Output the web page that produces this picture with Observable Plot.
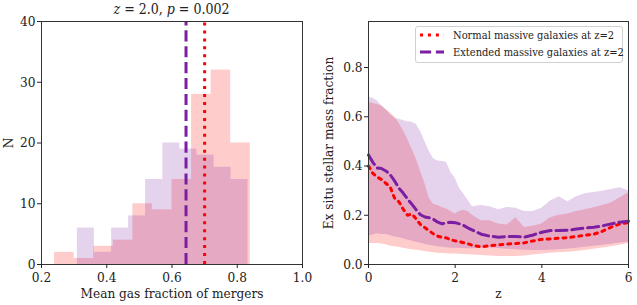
<!DOCTYPE html>
<html>
<head>
<meta charset="utf-8">
<script src="https://cdn.jsdelivr.net/npm/d3@7"></script>
<script src="https://cdn.jsdelivr.net/npm/@observablehq/plot@0.6"></script>
<style>
  html, body { margin: 0; padding: 0; background: #fff; }
  #wrap { position: relative; width: 637px; height: 305px; font-family: "DejaVu Serif Condensed", "DejaVu Serif", serif; font-stretch: condensed; color: #222; }
  #left, #right { position: absolute; top: 0; }
  #left { left: 0; }
  #right { left: 320px; }
  #title { position: absolute; left: 0; width: 343px; top: 1px; text-align: center; font-size: 14px; line-height: 17px; }
  #legend { position: absolute; left: 415px; top: 26px; width: 206px; height: 35px; border: 1px solid #d0d0d0; border-radius: 3px; background: rgba(255,255,255,0.8); font-size: 11px; }
  .row { position: absolute; left: 3px; height: 16px; display: flex; align-items: center; white-space: nowrap; }
  .row svg { margin-right: 8px; }
  svg text { font-stretch: condensed; }
</style>
</head>
<body>
<div id="wrap">
  <div id="left"></div>
  <div id="right"></div>
  <div id="title"><i>z</i> = 2.0, <i>p</i> = 0.002</div>
  <div id="legend"></div>
</div>
<script>
// ---------- Left panel: histograms ----------
const normalEdges   = [0.24, 0.30, 0.36, 0.42, 0.48, 0.54, 0.60, 0.66, 0.72, 0.78, 0.84];
const normalCounts  = [2, 1, 3, 4, 10, 9, 14, 28, 32, 20];
const extendedEdges = [0.310, 0.362, 0.415, 0.467, 0.519, 0.572, 0.624, 0.676, 0.729, 0.781, 0.833];
const extendedCounts= [6, 2, 6, 8, 14, 20, 19, 18, 16, 14];
const normalMeanGas   = 0.700;
const extendedMeanGas = 0.643;
const histXTicks = [0.2, 0.4, 0.6, 0.8, 1.0];
const histYTicks = [0, 10, 20, 30, 40];

// ---------- Right panel: ex situ fraction vs z ----------
const zGrid = [0,0.1,0.2,0.3,0.4,0.5,0.6,0.7,0.8,0.9,1.0,1.1,1.2,1.3,1.4,1.5,1.6,1.7,1.8,1.9,2.0,2.1,2.2,2.3,2.4,
               2.6,2.8,3.0,3.2,3.4,3.6,3.8,4.0,4.2,4.4,4.6,4.8,5.0,5.2,5.4,5.6,5.8,6.0];
const normalMedian = [0.40,0.37,0.355,0.345,0.33,0.315,0.27,0.255,0.225,0.20,0.205,0.185,0.162,0.15,0.137,0.124,0.115,0.11,0.108,0.10,0.096,0.093,0.088,0.084,0.078,
               0.072,0.076,0.08,0.083,0.085,0.088,0.096,0.102,0.104,0.107,0.109,0.114,0.119,0.123,0.135,0.152,0.165,0.17];
const normalUpper = [0.658,0.655,0.65,0.645,0.63,0.615,0.60,0.575,0.545,0.51,0.47,0.43,0.38,0.33,0.27,0.245,0.24,0.232,0.225,0.215,0.205,0.215,0.22,0.215,0.20,
               0.178,0.178,0.165,0.16,0.19,0.15,0.155,0.165,0.19,0.20,0.205,0.215,0.222,0.23,0.24,0.25,0.27,0.29];
const normalLower = [0.085,0.085,0.085,0.083,0.08,0.075,0.072,0.07,0.066,0.063,0.06,0.058,0.056,0.053,0.05,0.048,0.046,0.045,0.044,0.043,0.043,0.042,0.041,0.04,0.039,
               0.037,0.035,0.033,0.032,0.033,0.035,0.039,0.043,0.046,0.048,0.05,0.053,0.057,0.062,0.067,0.072,0.078,0.085];
const extendedMedian = [0.445,0.415,0.392,0.39,0.38,0.365,0.34,0.31,0.29,0.266,0.245,0.222,0.202,0.193,0.19,0.183,0.172,0.165,0.17,0.172,0.17,0.165,0.158,0.148,0.14,
               0.123,0.115,0.111,0.113,0.114,0.111,0.12,0.131,0.138,0.138,0.139,0.144,0.148,0.151,0.157,0.165,0.172,0.176];
const extendedUpper = [0.68,0.675,0.665,0.645,0.63,0.61,0.595,0.59,0.585,0.58,0.578,0.57,0.54,0.50,0.46,0.43,0.42,0.418,0.415,0.375,0.35,0.31,0.285,0.26,0.235,
               0.24,0.235,0.222,0.232,0.228,0.215,0.215,0.228,0.258,0.275,0.255,0.275,0.287,0.292,0.298,0.305,0.312,0.30];
const extendedLower = [0.115,0.12,0.125,0.122,0.122,0.118,0.112,0.11,0.105,0.10,0.095,0.09,0.086,0.082,0.078,0.075,0.072,0.07,0.068,0.066,0.066,0.065,0.065,0.064,0.064,
               0.066,0.067,0.065,0.062,0.06,0.058,0.057,0.057,0.058,0.06,0.063,0.066,0.07,0.074,0.078,0.082,0.087,0.09];
const evoXTicks = [0, 2, 4, 6];
const evoYTicks = [0, 0.2, 0.4, 0.6, 0.8];
const legendLabels = ["Normal massive galaxies at z=2", "Extended massive galaxies at z=2"];

const RED = "#ff0000";
const PURPLE = "#7b1fa2";
const DOT = "3,4.95";
const DASH = "11.1,4.8";
const FONT = "'DejaVu Serif Condensed', 'DejaVu Serif', serif";

const normalHist = normalCounts.map((n, i) => ({x1: normalEdges[i], x2: normalEdges[i + 1], n}));
const extendedHist = extendedCounts.map((n, i) => ({x1: extendedEdges[i], x2: extendedEdges[i + 1], n}));
const evo = zGrid.map((z, i) => ({
  z, nMed: normalMedian[i], nLo: normalLower[i], nHi: normalUpper[i],
  eMed: extendedMedian[i], eLo: extendedLower[i], eHi: extendedUpper[i]
}));

const baseStyle = {fontFamily: FONT, fontSize: "12.5px", color: "#222", background: "transparent", overflow: "visible"};

const left = Plot.plot({
  width: 320, height: 305,
  marginLeft: 41, marginRight: 18, marginTop: 21, marginBottom: 41,
  style: baseStyle,
  x: {domain: [0.2, 1.0]},
  y: {domain: [0, 40]},
  marks: [
    Plot.rectY(normalHist, {x1: "x1", x2: "x2", y: "n", fill: RED, fillOpacity: 0.2, inset: 0}),
    Plot.rectY(extendedHist, {x1: "x1", x2: "x2", y: "n", fill: PURPLE, fillOpacity: 0.2, inset: 0}),
    Plot.ruleX([extendedMeanGas], {y1: 0, y2: 40, stroke: PURPLE, strokeWidth: 3, strokeDasharray: DASH}),
    Plot.ruleX([normalMeanGas], {y1: 0, y2: 40, stroke: RED, strokeWidth: 3, strokeDasharray: DOT}),
    Plot.frame({stroke: "#333", strokeWidth: 1}),
    Plot.axisX({ticks: histXTicks, tickFormat: d3.format(".1f"), tickSize: 4, tickPadding: 4,
      label: "Mean gas fraction of mergers", labelAnchor: "center", labelArrow: "none", labelOffset: 33, fontSize: 13.5}),
    Plot.axisY({ticks: histYTicks, tickSize: 4, tickPadding: 2,
      label: "N", labelAnchor: "center", labelArrow: "none", labelOffset: 38, fontSize: 13.5})
  ]
});
document.getElementById("left").appendChild(left);

const right = Plot.plot({
  width: 317, height: 305,
  marginLeft: 48, marginRight: 9, marginTop: 21, marginBottom: 41,
  style: baseStyle,
  x: {domain: [0, 6]},
  y: {domain: [0, 0.987]},
  marks: [
    Plot.areaY(evo, {x: "z", y1: "nLo", y2: "nHi", fill: RED, fillOpacity: 0.2}),
    Plot.areaY(evo, {x: "z", y1: "eLo", y2: "eHi", fill: PURPLE, fillOpacity: 0.2}),
    Plot.line(evo, {x: "z", y: "nMed", stroke: RED, strokeWidth: 3, strokeDasharray: DOT}),
    Plot.line(evo, {x: "z", y: "eMed", stroke: PURPLE, strokeWidth: 3, strokeDasharray: DASH}),
    Plot.frame({stroke: "#333", strokeWidth: 1}),
    Plot.axisX({ticks: evoXTicks, tickFormat: d3.format("d"), tickSize: 4, tickPadding: 4,
      label: "z", labelAnchor: "center", labelArrow: "none", labelOffset: 33, fontSize: 13.5}),
    Plot.axisY({ticks: evoYTicks, tickFormat: d3.format(".1f"), tickSize: 4, tickPadding: 2,
      label: "Ex situ stellar mass fraction", labelAnchor: "center", labelArrow: "none", labelOffset: 45, fontSize: 13.5})
  ]
});
document.getElementById("right").appendChild(right);

// Legend
const legend = document.getElementById("legend");
[[RED, DOT], [PURPLE, DASH]].forEach(([c, dash], i) => {
  const row = document.createElement("div");
  row.className = "row";
  row.style.top = (i === 0 ? 0 : 17) + "px";
  row.innerHTML = `<svg width="26" height="6"><line x1="1" x2="25" y1="3" y2="3" stroke="${c}" stroke-width="3" stroke-dasharray="${dash}"/></svg><span>${legendLabels[i]}</span>`;
  legend.appendChild(row);
});
</script>
</body>
</html>
